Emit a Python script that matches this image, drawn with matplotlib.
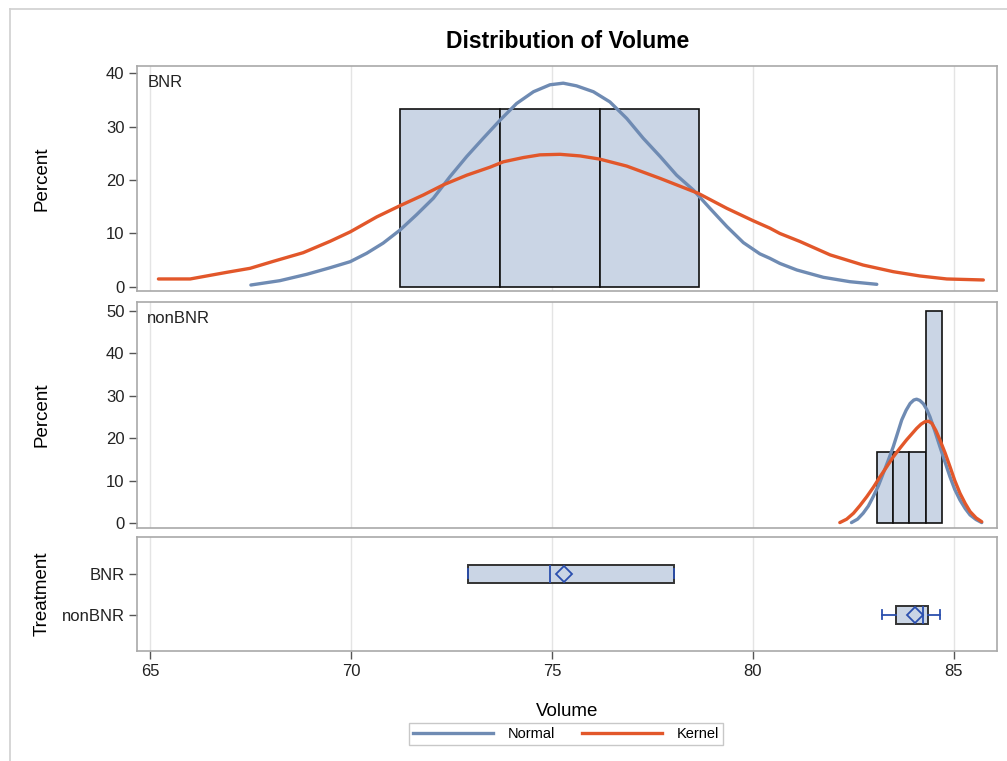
import matplotlib
matplotlib.use("Agg")
import matplotlib.pyplot as plt
from matplotlib.lines import Line2D

plt.rcParams['font.family'] = ['Liberation Sans', 'DejaVu Sans']

# histogram bins (Volume) and percent per bin
bnr_edges = [71.22, 73.71, 76.19, 78.66]
bnr_pct = [33.33, 33.33, 33.33]
non_edges = [83.09, 83.49, 83.89, 84.30, 84.71]
non_pct = [16.67, 16.67, 16.67, 50.0]

# fitted curves read along Volume
bnr_norm_x = [67.51, 68.23, 68.90, 69.48, 69.98, 70.39, 70.80, 71.22, 71.63, 72.05,
              72.46, 72.88, 73.29, 73.71, 74.12, 74.54, 74.95, 75.28, 75.61, 76.03,
              76.44, 76.86, 77.27, 77.69, 78.10, 78.52, 78.93, 79.35, 79.76, 80.17,
              80.42, 80.67, 81.09, 81.75, 82.41, 83.08]
bnr_norm_y = [0.37, 1.18, 2.37, 3.60, 4.73, 6.30, 8.20, 10.65, 13.5, 16.6,
              20.6, 24.4, 27.8, 31.2, 34.3, 36.5, 37.8, 38.1, 37.6, 36.5,
              34.6, 31.5, 27.8, 24.4, 20.9, 18.1, 14.7, 11.3, 8.3, 6.2,
              5.36, 4.4, 3.18, 1.81, 0.99, 0.50]
bnr_kern_x = [65.21, 66.00, 66.41, 66.91, 67.49, 68.07, 68.81, 69.48, 69.98, 70.64,
              71.22, 71.80, 72.30, 72.88, 73.46, 73.79, 74.29, 74.70, 75.20, 75.70,
              76.19, 76.86, 77.69, 78.64, 79.35, 80.00, 80.42, 80.67, 81.17, 81.92,
              82.74, 83.49, 84.15, 84.82, 85.73]
bnr_kern_y = [1.50, 1.50, 2.06, 2.74, 3.49, 4.80, 6.41, 8.54, 10.3, 13.1,
              15.2, 17.2, 19.1, 20.9, 22.4, 23.4, 24.2, 24.7, 24.8, 24.5,
              23.9, 22.6, 20.3, 17.5, 14.7, 12.4, 11.0, 10.0, 8.5, 6.0,
              4.1, 2.86, 2.06, 1.50, 1.31]
non_norm_x = [82.45, 82.60, 82.74, 82.87, 82.99, 83.12, 83.24, 83.37, 83.49, 83.60,
              83.70, 83.81, 83.91, 84.00, 84.07, 84.15, 84.24, 84.32, 84.40, 84.52,
              84.65, 84.78, 84.90, 85.02, 85.15, 85.28, 85.40, 85.55, 85.69]
non_norm_y = [0.1, 0.9, 2.3, 4.0, 6.2, 8.8, 11.7, 14.9, 18.0, 21.3,
              24.3, 26.6, 28.2, 29.0, 29.2, 28.9, 28.1, 26.8, 25.1, 21.8,
              18.0, 14.3, 10.9, 7.9, 5.4, 3.4, 1.9, 0.8, 0.1]
non_kern_x = [82.16, 82.33, 82.50, 82.66, 82.83, 83.00, 83.16, 83.33, 83.49, 83.66,
              83.82, 83.95, 84.07, 84.18, 84.28, 84.37, 84.45, 84.55, 84.65, 84.78,
              84.90, 85.02, 85.15, 85.28, 85.40, 85.55, 85.69]
non_kern_y = [0.1, 0.9, 2.3, 4.1, 6.2, 8.5, 10.9, 13.3, 15.6, 17.7,
              19.6, 21.0, 22.3, 23.3, 23.9, 24.0, 23.5, 21.8, 19.6, 16.5,
              13.3, 10.0, 7.0, 4.6, 2.7, 1.2, 0.3]

# box plot summaries
groups = ["BNR", "nonBNR"]
q1 = [72.90, 83.57]
median = [74.94, 84.24]
q3 = [78.04, 84.35]
lo = [72.90, 83.21]
hi = [78.04, 84.66]
mean = [75.30, 84.04]

blue = '#6F8BB3'
orange = '#E2572A'
fill = '#CAD5E5'
dark = '#2B4FAE'
frame = '#A9A9A9'
grid = '#E4E4E4'

fig = plt.figure(figsize=(10.07, 7.61), dpi=100)
W, H = 1007, 761
def rect(l, t, r, b):
    return [l / W, 1 - b / H, (r - l) / W, (b - t) / H]

ax1 = fig.add_axes(rect(137, 66, 997, 291))
ax2 = fig.add_axes(rect(137, 302, 997, 528))
ax3 = fig.add_axes(rect(137, 537, 997, 651))

for ax in (ax1, ax2, ax3):
    ax.set_xlim(64.677, 86.07)
    ax.set_xticks([65, 70, 75, 80, 85])
    ax.grid(axis='x', color=grid, lw=1)
    ax.set_axisbelow(True)
    for s in ax.spines.values():
        s.set_color(frame)
        s.set_linewidth(1.2)
    ax.tick_params(colors='#555555', labelcolor='#222222', labelsize=12,
                   length=6, width=1, pad=3)

def hist(ax, edges, pct):
    widths = [edges[i + 1] - edges[i] for i in range(len(pct))]
    ax.bar(edges[:-1], pct, width=widths, align='edge', color=fill,
           edgecolor='#111111', linewidth=1.2, zorder=2)

curve = dict(lw=2.4, zorder=3, solid_joinstyle='round', solid_capstyle='round')

hist(ax1, bnr_edges, bnr_pct)
ax1.plot(bnr_norm_x, bnr_norm_y, color=blue, **curve)
ax1.plot(bnr_kern_x, bnr_kern_y, color=orange, **curve)
ax1.set_ylim(-0.75, 41.31)
ax1.set_yticks([0, 10, 20, 30, 40])
ax1.tick_params(axis='x', bottom=False, labelbottom=False)
ax1.text(0.012, 0.96, "BNR", transform=ax1.transAxes, fontsize=12,
         va='top', ha='left', color='#222222')
ax1.set_ylabel("Percent", fontsize=13.5)

hist(ax2, non_edges, non_pct)
ax2.plot(non_norm_x, non_norm_y, color=blue, **curve)
ax2.plot(non_kern_x, non_kern_y, color=orange, **curve)
ax2.set_ylim(-1.18, 52.12)
ax2.set_yticks([0, 10, 20, 30, 40, 50])
ax2.tick_params(axis='x', bottom=False, labelbottom=False)
ax2.text(0.012, 0.96, "nonBNR", transform=ax2.transAxes, fontsize=12,
         va='top', ha='left', color='#222222')
ax2.set_ylabel("Percent", fontsize=13.5)

stats = []
for i, g in enumerate(groups):
    stats.append(dict(label=g, q1=q1[i], med=median[i], q3=q3[i],
                      whislo=lo[i], whishi=hi[i], mean=mean[i], fliers=[]))
ax3.bxp(stats, positions=[0, 1], vert=False, widths=0.45, showmeans=True,
        patch_artist=True, showcaps=True,
        boxprops=dict(facecolor=fill, edgecolor='#333333', linewidth=1.4),
        medianprops=dict(color=dark, linewidth=1.3),
        whiskerprops=dict(color=dark, linewidth=1.3),
        capprops=dict(color=dark, linewidth=1.3),
        capwidths=0.22,
        meanprops=dict(marker='D', markersize=8, markerfacecolor='none',
                       markeredgecolor=dark, markeredgewidth=1.3))
ax3.set_ylim(1.88, -0.90)
ax3.set_yticks([0, 1])
ax3.set_yticklabels(groups)
ax3.set_ylabel("Treatment", fontsize=13.5)
ax3.set_xlabel("Volume", fontsize=13.5, labelpad=18)

for ax in (ax1, ax2, ax3):
    ax.yaxis.set_label_coords(-0.101, 0.5)

fig.suptitle("Distribution of Volume", x=568 / W, y=1 - 41 / H, va='center',
             fontsize=16.5, fontweight='bold')

handles = [Line2D([], [], color=blue, lw=2.4), Line2D([], [], color=orange, lw=2.4)]
leg = fig.legend(handles, ["Normal", "Kernel"], loc='center',
                 bbox_to_anchor=(566 / W, 1 - 734 / H), ncol=2, fontsize=10.5,
                 handlelength=5.5, columnspacing=1.8, handletextpad=1.0,
                 borderpad=0.3, fancybox=False, edgecolor='#BBBBBB')
leg.get_frame().set_linewidth(1)

# thin page border along the top and left
fig.add_artist(Line2D([10 / W, 1], [1 - 9 / H, 1 - 9 / H], color='#D0D0D0', lw=1.2))
fig.add_artist(Line2D([10 / W, 10 / W], [0, 1 - 9 / H], color='#D0D0D0', lw=1.2))

fig.savefig("out.png", dpi=100)
